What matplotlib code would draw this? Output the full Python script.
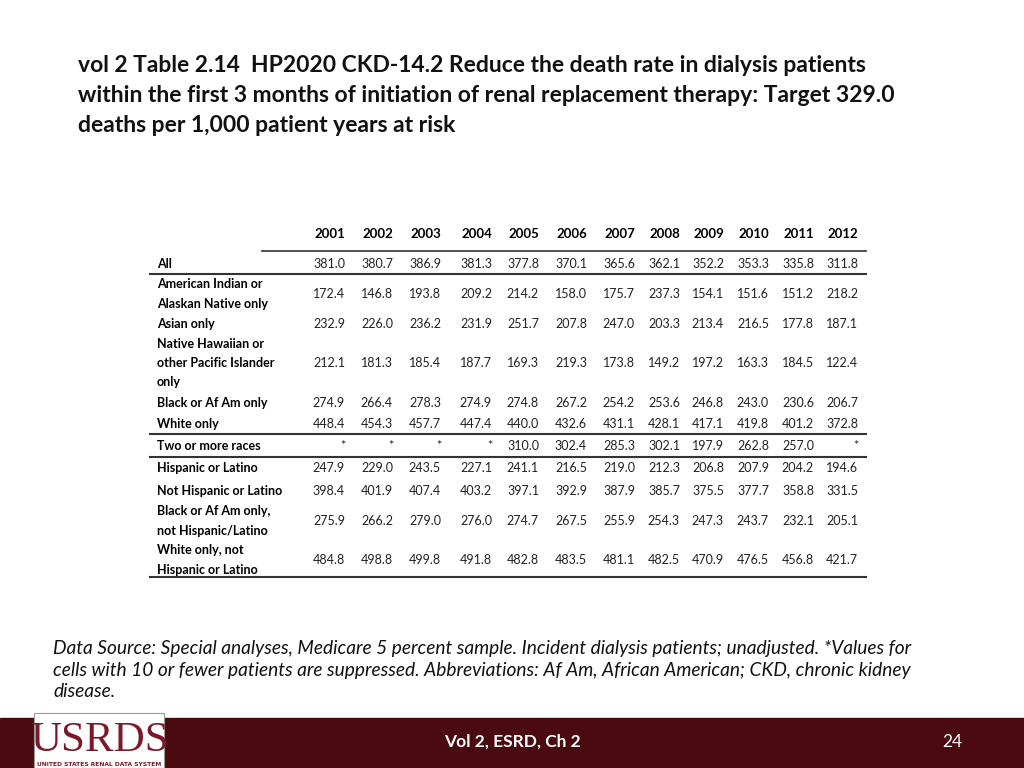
import matplotlib
matplotlib.use("Agg")
import matplotlib.pyplot as plt
from matplotlib.patches import Rectangle

years = ["2001","2002","2003","2004","2005","2006","2007","2008","2009","2010","2011","2012"]
row_labels = ["All", "American Indian or\nAlaskan Native only", "Asian only",
              "Native Hawaiian or\nother Pacific Islander\nonly", "Black or Af Am only",
              "White only", "Two or more races", "Hispanic or Latino",
              "Not Hispanic or Latino", "Black or Af Am only,\nnot Hispanic/Latino",
              "White only, not\nHispanic or Latino"]
all_v = ["381.0","380.7","386.9","381.3","377.8","370.1","365.6","362.1","352.2","353.3","335.8","311.8"]
aian = ["172.4","146.8","193.8","209.2","214.2","158.0","175.7","237.3","154.1","151.6","151.2","218.2"]
asian = ["232.9","226.0","236.2","231.9","251.7","207.8","247.0","203.3","213.4","216.5","177.8","187.1"]
nhpi = ["212.1","181.3","185.4","187.7","169.3","219.3","173.8","149.2","197.2","163.3","184.5","122.4"]
black = ["274.9","266.4","278.3","274.9","274.8","267.2","254.2","253.6","246.8","243.0","230.6","206.7"]
white = ["448.4","454.3","457.7","447.4","440.0","432.6","431.1","428.1","417.1","419.8","401.2","372.8"]
two = ["*","*","*","*","310.0","302.4","285.3","302.1","197.9","262.8","257.0","*"]
hisp = ["247.9","229.0","243.5","227.1","241.1","216.5","219.0","212.3","206.8","207.9","204.2","194.6"]
nothisp = ["398.4","401.9","407.4","403.2","397.1","392.9","387.9","385.7","375.5","377.7","358.8","331.5"]
blacknh = ["275.9","266.2","279.0","276.0","274.7","267.5","255.9","254.3","247.3","243.7","232.1","205.1"]
whitenh = ["484.8","498.8","499.8","491.8","482.8","483.5","481.1","482.5","470.9","476.5","456.8","421.7"]
rows = [all_v, aian, asian, nhpi, black, white, two, hisp, nothisp, blacknh, whitenh]

W, H = 1024, 768
fig = plt.figure(figsize=(W/100, H/100), dpi=100)
ax = fig.add_axes([0, 0, 1, 1])
ax.set_xlim(0, W); ax.set_ylim(H, 0); ax.axis("off")
FONT = "Lato"
DARK = "#4a0a10"

title = ("vol 2 Table 2.14  HP2020 CKD-14.2 Reduce the death rate in dialysis patients\n"
         "within the first 3 months of initiation of renal replacement therapy: Target 329.0\n"
         "deaths per 1,000 patient years at risk")
ax.text(78, 55, title, fontsize=16.5, fontweight="bold", family=FONT, va="top", ha="left",
        linespacing=1.52, color="#111111")

col_x = [330, 378, 426, 477, 524, 572, 620, 665, 709, 754, 799, 843]
for x, y in zip(col_x, years):
    ax.text(x, 234, y, fontsize=9.5, fontweight="bold", family=FONT, ha="center", va="center")

row_y = [264, 294, 324, 363, 403, 424, 446, 468, 491, 521, 560]
for lab, vals, y in zip(row_labels, rows, row_y):
    ax.text(157, y, lab, fontsize=9, fontweight="bold", family=FONT, ha="left", va="center",
            linespacing=1.75)
    for x, v in zip(col_x, vals):
        ax.text(x + 15, y, v, fontsize=9, family=FONT, ha="right", va="center", color="#222222")

ax.plot([262, 866], [251, 251], color="#333333", lw=1.2)
for yy in [274, 434, 457, 577]:
    ax.plot([150, 866], [yy, yy], color="#333333", lw=1.5)

ax.text(53, 640, "Data Source: Special analyses, Medicare 5 percent sample. Incident dialysis patients; unadjusted. *Values for\n"
        "cells with 10 or fewer patients are suppressed. Abbreviations: Af Am, African American; CKD, chronic kidney\n"
        "disease.", fontsize=13.8, style="italic", family=FONT, va="top", ha="left", linespacing=1.33, color="#111111")

ax.add_patch(Rectangle((0, 718), W, 50, color=DARK))
ax.add_patch(Rectangle((34, 713), 130, 55, color="white", ec="#999999", lw=0.8))
ax.text(99, 741, "USRDS", fontsize=31, family="Liberation Serif", color="#7a1a28", ha="center", va="center")
ax.text(99, 764, "UNITED STATES RENAL DATA SYSTEM", fontsize=4.3, fontweight="bold", family="DejaVu Sans",
        color="#7a1a28", ha="center", va="center")
ax.text(512, 742, "Vol 2, ESRD, Ch 2", fontsize=12.5, fontweight="bold", family=FONT, color="white",
        ha="center", va="center")
ax.text(952, 742, "24", fontsize=12.5, family=FONT, color="white", ha="center", va="center")

fig.savefig("out.png", dpi=100)
